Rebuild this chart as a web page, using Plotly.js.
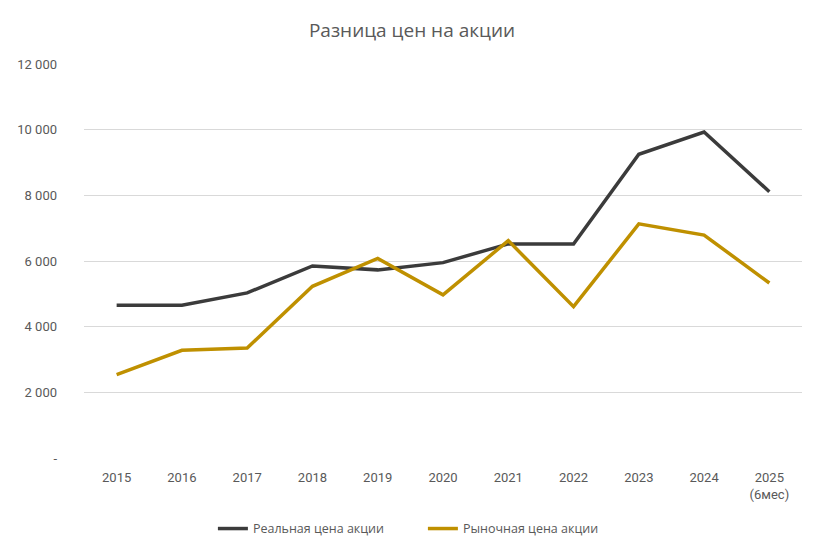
<!DOCTYPE html>
<html>
<head>
<meta charset="utf-8">
<script src="https://cdn.plot.ly/plotly-3.0.1.min.js"></script>
<style>html,body{margin:0;padding:0;background:#fff;}#chart{width:824px;height:558px;}</style>
</head>
<body>
<div id="chart"></div>
<script>
const categories = ["2015","2016","2017","2018","2019","2020","2021","2022","2023","2024","2025<br>(6мес)"];
const realPrice = [4650, 4650, 5030, 5850, 5730, 5950, 6520, 6520, 9250, 9930, 8110];
const marketPrice = [2540, 3280, 3350, 5230, 6080, 4970, 6620, 4610, 7130, 6790, 5330];
const yTickVals = [0, 2000, 4000, 6000, 8000, 10000, 12000];
const yTickText = ["-", "2 000", "4 000", "6 000", "8 000", "10 000", "12 000"];

const tickFont = {family: "Liberation Sans Narrow, Roboto, sans-serif", size: 13, color: "#595959"};

const traces = [
  {x: categories, y: realPrice, type: "scatter", mode: "lines", name: "Реальная цена акции",
   line: {color: "#3b3b3b", width: 3.5}},
  {x: categories, y: marketPrice, type: "scatter", mode: "lines", name: "Рыночная цена акции",
   line: {color: "#bf9000", width: 3.5}}
];

const layout = {
  width: 824, height: 558,
  margin: {l: 84, r: 22, t: 64, b: 100},
  paper_bgcolor: "#fff", plot_bgcolor: "#fff",
  title: {text: "Разница цен на акции", x: 0.5, xanchor: "center", y: 0.945, yanchor: "middle",
          font: {family: "Open Sans, Noto Sans, sans-serif", size: 19, color: "#595959"}},
  xaxis: {type: "category", range: [-0.5, 10.5], tickfont: tickFont, showgrid: false, zeroline: false,
          showline: false, ticks: "", ticklabelstandoff: 10, fixedrange: true},
  yaxis: {range: [0, 12000], tickvals: yTickVals, ticktext: yTickText, tickfont: tickFont,
          showgrid: true, gridcolor: "#d9d9d9", gridwidth: 1, zeroline: false, showline: false,
          ticks: "", ticklabelstandoff: 26, fixedrange: true},
  showlegend: true,
  legend: {orientation: "h", x: 0.472, xanchor: "center", y: -0.18, yanchor: "middle",
           font: {family: "Open Sans, Noto Sans, sans-serif", size: 12.5, color: "#595959"},
           entrywidth: 165, itemwidth: 30, tracegroupgap: 0},
  font: {family: "Open Sans, sans-serif"}
};

Plotly.newPlot("chart", traces, layout, {displayModeBar: false, staticPlot: true});
</script>
</body>
</html>
